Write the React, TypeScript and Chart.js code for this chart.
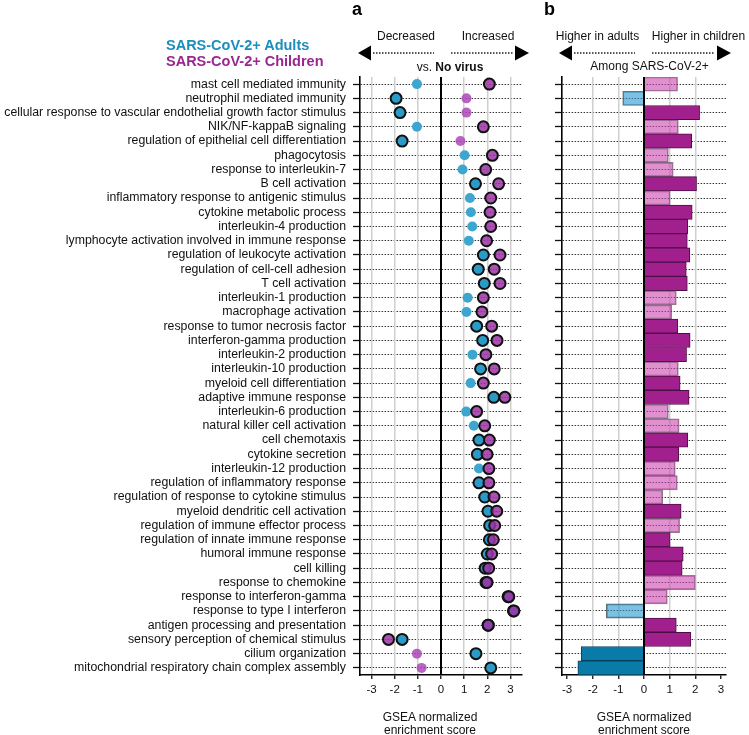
import React, { useEffect, useRef } from 'react';
import { Chart, registerables } from 'chart.js';

Chart.register(...registerables);

const FONT = '"Liberation Sans", Arial, Helvetica, sans-serif';

const categories = [
  'mast cell mediated immunity',
  'neutrophil mediated immunity',
  'cellular response to vascular endothelial growth factor stimulus',
  'NIK/NF-kappaB signaling',
  'regulation of epithelial cell differentiation',
  'phagocytosis',
  'response to interleukin-7',
  'B cell activation',
  'inflammatory response to antigenic stimulus',
  'cytokine metabolic process',
  'interleukin-4 production',
  'lymphocyte activation involved in immune response',
  'regulation of leukocyte activation',
  'regulation of cell-cell adhesion',
  'T cell activation',
  'interleukin-1 production',
  'macrophage activation',
  'response to tumor necrosis factor',
  'interferon-gamma production',
  'interleukin-2 production',
  'interleukin-10 production',
  'myeloid cell differentiation',
  'adaptive immune response',
  'interleukin-6 production',
  'natural killer cell activation',
  'cell chemotaxis',
  'cytokine secretion',
  'interleukin-12 production',
  'regulation of inflammatory response',
  'regulation of response to cytokine stimulus',
  'myeloid dendritic cell activation',
  'regulation of immune effector process',
  'regulation of innate immune response',
  'humoral immune response',
  'cell killing',
  'response to chemokine',
  'response to interferon-gamma',
  'response to type I interferon',
  'antigen processing and presentation',
  'sensory perception of chemical stimulus',
  'cilium organization',
  'mitochondrial respiratory chain complex assembly',
];

// Panel a: NES vs. no virus
const adultsVsNoVirus = [
  -1.04, -1.94, -1.77, -1.04, -1.68, 1.02, 0.93, 1.49, 1.25, 1.29,
  1.35, 1.2, 1.83, 1.61, 1.87, 1.15, 1.1, 1.54, 1.8, 1.36,
  1.71, 1.28, 2.28, 1.09, 1.42, 1.64, 1.57, 1.64, 1.64, 1.89,
  2.03, 2.1, 2.09, 2.0, 1.91, 1.94, 2.9, 3.13, 2.04, -1.68,
  1.51, 2.15,
];
const adultsSignificant = [
  0, 1, 1, 0, 1, 0, 0, 1, 0, 0,
  0, 0, 1, 1, 1, 0, 0, 1, 1, 0,
  1, 0, 1, 0, 0, 1, 1, 0, 1, 1,
  1, 1, 1, 1, 1, 1, 1, 1, 1, 1,
  1, 1,
];
const childrenVsNoVirus = [
  2.09, 1.1, 1.1, 1.83, 0.84, 2.22, 1.93, 2.49, 2.15, 2.12,
  2.15, 1.97, 2.55, 2.3, 2.55, 1.83, 1.77, 2.19, 2.42, 1.94,
  2.3, 1.83, 2.76, 1.54, 1.89, 2.09, 1.99, 2.07, 2.07, 2.29,
  2.41, 2.32, 2.26, 2.19, 2.06, 1.99, 2.93, 3.15, 2.04, -2.27,
  -1.04, -0.84,
];
const childrenSignificant = [
  1, 0, 0, 1, 0, 1, 1, 1, 1, 1,
  1, 1, 1, 1, 1, 1, 1, 1, 1, 1,
  1, 1, 1, 1, 1, 1, 1, 1, 1, 1,
  1, 1, 1, 1, 1, 1, 1, 1, 1, 1,
  0, 0,
];

// Panel b: children vs. adults among SARS-CoV-2+
const childrenVsAdults = [
  1.31, -0.83, 2.17, 1.34, 1.86, 0.95, 1.14, 2.05, 1.02, 1.88,
  1.71, 1.69, 1.79, 1.65, 1.69, 1.26, 1.08, 1.32, 1.8, 1.66,
  1.34, 1.41, 1.76, 0.95, 1.37, 1.71, 1.36, 1.22, 1.3, 0.73,
  1.45, 1.39, 1.02, 1.53, 1.49, 2.0, 0.91, -1.47, 1.26, 1.83,
  -2.45, -2.58,
];
const childrenVsAdultsSignificant = [
  0, 0, 1, 0, 1, 0, 0, 1, 0, 1,
  1, 1, 1, 1, 1, 0, 0, 1, 1, 1,
  0, 1, 1, 0, 0, 1, 1, 0, 0, 0,
  1, 0, 1, 1, 1, 0, 0, 0, 1, 1,
  1, 1,
];

const tickValues = [-3, -2, -1, 0, 1, 2, 3];
const gridValuesA = [-3, -2, -1, 1, 2, 3];
const gridValuesB = [-2, -1, 1, 2];

const BLUE = '#2a9bc6';
const BLUE_LIGHT = '#3da6cf';
const PURPLE = 'rgba(155, 50, 165, 0.85)';
const PURPLE_LIGHT = 'rgba(172, 72, 182, 0.85)';
const BAR_PURPLE = '#a2208e';
const BAR_PURPLE_BORDER = '#4d0e45';
const BAR_PINK = 'rgba(205, 70, 175, 0.6)';
const BAR_PINK_BORDER = 'rgba(95, 70, 95, 0.7)';
const BAR_BLUE = '#0a7aa8';
const BAR_BLUE_BORDER = '#07425c';
const BAR_BLUE_LIGHT = 'rgba(40, 150, 205, 0.6)';
const BAR_BLUE_LIGHT_BORDER = 'rgba(50, 80, 95, 0.8)';

function yScale(showLabels: boolean, width: number) {
  return {
    type: 'category',
    offset: true,
    grid: {
      display: true,
      offset: false,
      color: '#333',
      lineWidth: 1,
      drawTicks: true,
      tickLength: 7,
      tickColor: '#111',
      tickWidth: 1.3,
      tickBorderDash: [],
    },
    border: { display: true, color: '#000', width: 1.6, dash: [1.5, 1.5] },
    ticks: {
      display: showLabels,
      autoSkip: false,
      color: '#111',
      font: { family: FONT, size: 12.3 },
      padding: 7,
    },
    afterFit: (s: any) => {
      s.width = width;
    },
  };
}

function xScale(min: number, max: number, gridValues: number[]) {
  return {
    type: 'linear',
    min,
    max,
    afterBuildTicks: (s: any) => {
      s.ticks = tickValues.map((v) => ({ value: v }));
    },
    grid: {
      color: (c: any) =>
        c.tick && gridValues.includes(c.tick.value) ? '#cfcfcf' : 'rgba(0,0,0,0)',
      lineWidth: 1.5,
      drawTicks: true,
      tickLength: 4,
      tickColor: '#111',
      tickWidth: 1.3,
      tickBorderDash: [],
    },
    border: { display: true, color: '#000', width: 1.6 },
    ticks: {
      color: '#111',
      font: { family: FONT, size: 11.5 },
      padding: 4,
      callback: (v: any) => String(v),
    },
    afterFit: (s: any) => {
      s.height = 60;
    },
  };
}

const zeroLinePlugin = {
  id: 'zeroLine',
  afterDatasetsDraw(chart: any) {
    const { ctx, chartArea, scales } = chart;
    const x = scales.x.getPixelForValue(0);
    ctx.save();
    ctx.strokeStyle = '#000';
    ctx.lineWidth = 2;
    ctx.beginPath();
    ctx.moveTo(x, chartArea.top);
    ctx.lineTo(x, chartArea.bottom);
    ctx.stroke();
    ctx.restore();
  },
};

function arrowPlugin(spec: {
  y: number;
  leftTip: number;
  leftBase: number;
  leftDotEnd: number;
  rightDotStart: number;
  rightBase: number;
  rightTip: number;
}) {
  return {
    id: 'arrows',
    afterDraw(chart: any) {
      const { ctx } = chart;
      const { y } = spec;
      ctx.save();
      ctx.strokeStyle = '#222';
      ctx.lineWidth = 1.3;
      ctx.setLineDash([1.5, 1.5]);
      ctx.beginPath();
      ctx.moveTo(spec.leftBase + 2, y);
      ctx.lineTo(spec.leftDotEnd, y);
      ctx.moveTo(spec.rightDotStart, y);
      ctx.lineTo(spec.rightBase - 2, y);
      ctx.stroke();
      ctx.setLineDash([]);
      ctx.fillStyle = '#000';
      ctx.beginPath();
      ctx.moveTo(spec.leftTip, y);
      ctx.lineTo(spec.leftBase, y - 7.5);
      ctx.lineTo(spec.leftBase, y + 7.5);
      ctx.closePath();
      ctx.fill();
      ctx.beginPath();
      ctx.moveTo(spec.rightTip, y);
      ctx.lineTo(spec.rightBase, y - 7.5);
      ctx.lineTo(spec.rightBase, y + 7.5);
      ctx.closePath();
      ctx.fill();
      ctx.restore();
    },
  };
}

function Txt(props: {
  x: number;
  baseline: number;
  size: number;
  bold?: boolean;
  color?: string;
  anchor?: 'start' | 'middle';
  children: React.ReactNode;
}) {
  const { x, baseline, size, bold, color, anchor = 'middle', children } = props;
  return (
    <div
      style={{
        position: 'absolute',
        left: x,
        top: baseline - 0.8465 * size,
        fontSize: size,
        lineHeight: `${size}px`,
        fontWeight: bold ? 700 : 400,
        color: color || '#111',
        whiteSpace: 'nowrap',
        transform: anchor === 'middle' ? 'translateX(-50%)' : undefined,
        fontFamily: FONT,
      }}
    >
      {children}
    </div>
  );
}

export default function App() {
  const refA = useRef<HTMLCanvasElement>(null);
  const refB = useRef<HTMLCanvasElement>(null);

  useEffect(() => {
    const pointStyle = (sig: number[], strong: string, light: string) => ({
      pointRadius: sig.map((s) => (s ? 5.5 : 5)),
      pointHoverRadius: sig.map((s) => (s ? 5.5 : 5)),
      pointBorderWidth: sig.map((s) => (s ? 2 : 0)),
      pointBackgroundColor: sig.map((s) => (s ? strong : light)),
      pointBorderColor: '#111',
    });

    const chartA = new Chart(refA.current as HTMLCanvasElement, {
      type: 'line',
      data: {
        labels: categories,
        datasets: [
          {
            label: 'SARS-CoV-2+ Children',
            data: childrenVsNoVirus,
            showLine: false,
            order: 1,
            ...pointStyle(childrenSignificant, PURPLE, PURPLE_LIGHT),
          } as any,
          {
            label: 'SARS-CoV-2+ Adults',
            data: adultsVsNoVirus,
            showLine: false,
            order: 2,
            ...pointStyle(adultsSignificant, BLUE, BLUE_LIGHT),
          } as any,
        ],
      },
      options: {
        indexAxis: 'y',
        responsive: false,
        animation: false,
        devicePixelRatio: 1,
        layout: { padding: { top: 77, right: 8, left: 0, bottom: 0 } },
        scales: {
          y: yScale(true, 360) as any,
          x: xScale(-3.5, 3.5, gridValuesA) as any,
        },
        plugins: { legend: { display: false }, tooltip: { enabled: false } },
      },
      plugins: [
        zeroLinePlugin,
        arrowPlugin({
          y: 53,
          leftTip: 358,
          leftBase: 371,
          leftDotEnd: 434,
          rightDotStart: 451,
          rightBase: 515,
          rightTip: 529,
        }),
      ],
    });

    const barColors = childrenVsAdults.map((v, i) =>
      v >= 0
        ? childrenVsAdultsSignificant[i]
          ? BAR_PURPLE
          : BAR_PINK
        : childrenVsAdultsSignificant[i]
        ? BAR_BLUE
        : BAR_BLUE_LIGHT
    );
    const barBorders = childrenVsAdults.map((v, i) =>
      v >= 0
        ? childrenVsAdultsSignificant[i]
          ? BAR_PURPLE_BORDER
          : BAR_PINK_BORDER
        : childrenVsAdultsSignificant[i]
        ? BAR_BLUE_BORDER
        : BAR_BLUE_LIGHT_BORDER
    );

    const chartB = new Chart(refB.current as HTMLCanvasElement, {
      type: 'bar',
      data: {
        labels: categories,
        datasets: [
          {
            label: 'Children vs. adults',
            data: childrenVsAdults,
            backgroundColor: barColors,
            borderColor: barBorders,
            borderWidth: 1,
            barPercentage: 1,
            categoryPercentage: 1,
          },
        ],
      },
      options: {
        indexAxis: 'y',
        responsive: false,
        animation: false,
        devicePixelRatio: 1,
        layout: { padding: { top: 77, right: 23, left: 0, bottom: 0 } },
        scales: {
          y: yScale(false, 22) as any,
          x: xScale(-3.2, 3.2, gridValuesB) as any,
        },
        plugins: { legend: { display: false }, tooltip: { enabled: false } },
      },
      plugins: [
        zeroLinePlugin,
        arrowPlugin({
          y: 53,
          leftTip: 19,
          leftBase: 32,
          leftDotEnd: 95,
          rightDotStart: 112,
          rightBase: 177,
          rightTip: 191,
        }),
      ],
    });

    return () => {
      chartA.destroy();
      chartB.destroy();
    };
  }, []);

  return (
    <div
      style={{
        position: 'absolute',
        left: 0,
        top: 0,
        width: 749,
        height: 735,
        overflow: 'hidden',
        background: '#fff',
        fontFamily: FONT,
      }}
    >
      <canvas
        ref={refA}
        width={530}
        height={735}
        style={{ position: 'absolute', left: 0, top: 0, width: 530, height: 735 }}
      />
      <canvas
        ref={refB}
        width={209}
        height={735}
        style={{ position: 'absolute', left: 540, top: 0, width: 209, height: 735 }}
      />

      <Txt x={352} baseline={15} size={18} bold anchor="start" color="#000">
        a
      </Txt>
      <Txt x={544} baseline={15} size={18} bold anchor="start" color="#000">
        b
      </Txt>

      <Txt x={166} baseline={50.7} size={14.5} bold anchor="start" color="#1c8dbd">
        SARS-CoV-2+ Adults
      </Txt>
      <Txt x={166} baseline={66.7} size={14.5} bold anchor="start" color="#9a2790">
        SARS-CoV-2+ Children
      </Txt>

      <Txt x={406} baseline={40} size={12}>
        Decreased
      </Txt>
      <Txt x={488} baseline={40} size={12}>
        Increased
      </Txt>
      <Txt x={450} baseline={71.5} size={12}>
        <span>vs. </span>
        <b>No virus</b>
      </Txt>

      <Txt x={597.5} baseline={40} size={12}>
        Higher in adults
      </Txt>
      <Txt x={698.5} baseline={40} size={12}>
        Higher in children
      </Txt>
      <Txt x={649.5} baseline={70.5} size={12}>
        Among SARS-CoV-2+
      </Txt>

      <Txt x={430} baseline={721.5} size={12}>
        GSEA normalized
      </Txt>
      <Txt x={430} baseline={734.5} size={12}>
        enrichment score
      </Txt>
      <Txt x={644} baseline={721.5} size={12}>
        GSEA normalized
      </Txt>
      <Txt x={644} baseline={734.5} size={12}>
        enrichment score
      </Txt>
    </div>
  );
}
